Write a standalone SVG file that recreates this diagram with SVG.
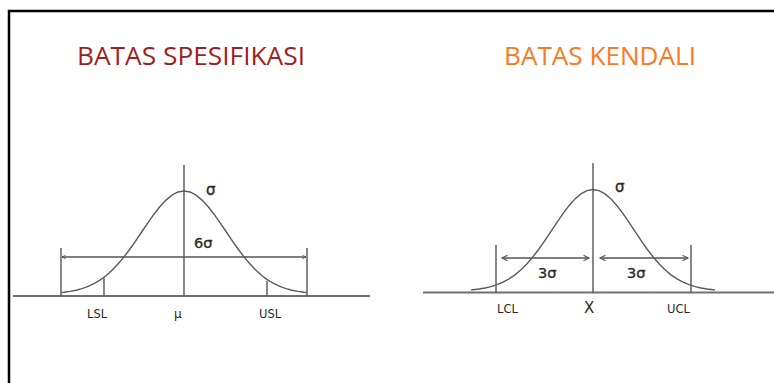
<svg xmlns="http://www.w3.org/2000/svg" width="774" height="383" viewBox="0 0 774 383">
<style>
.title{font-family:"Open Sans","Noto Sans","DejaVu Sans",sans-serif;font-size:25px}
.lbl{font-family:"DejaVu Sans","Liberation Sans",sans-serif;fill:#2a2a2a}
.sg{stroke:#2a2a2a;stroke-width:0.35}
.ax{stroke:#707070;stroke-width:2;fill:none}
.ln{stroke:#555;stroke-width:1.4;fill:none}
.cv{stroke:#5a5a5a;stroke-width:1.4;fill:none}
.arr{stroke:#555;stroke-width:1.3;fill:none;marker-start:url(#ah);marker-end:url(#ah)}
.arrs{stroke:#555;stroke-width:1.3;fill:none;marker-start:url(#ahs);marker-end:url(#ahs)}
</style>
<defs>
<marker id="ah" markerUnits="userSpaceOnUse" markerWidth="8" markerHeight="8" refX="6" refY="3.5" orient="auto-start-reverse">
<path d="M0.5,0.8 L6,3.5 L0.5,6.2" fill="none" stroke="#555" stroke-width="1.1"/>
</marker>
<marker id="ahs" markerUnits="userSpaceOnUse" markerWidth="6" markerHeight="6" refX="4" refY="3" orient="auto-start-reverse">
<path d="M0.5,1.3 L4,3 L0.5,4.7" fill="none" stroke="#555" stroke-width="1"/>
</marker>
</defs>
<rect width="774" height="383" fill="#fff"/>
<g id="frame">
<path d="M9,383 V11 H774" fill="none" stroke="#000" stroke-width="2.5"/>
</g>
<g id="title-spesifikasi"><text class="title" x="77" y="65" fill="#A01E22" textLength="228" lengthAdjust="spacingAndGlyphs">BATAS SPESIFIKASI</text></g>
<g id="title-kendali"><text class="title" x="504" y="65" fill="#F97A22" textLength="192" lengthAdjust="spacingAndGlyphs">BATAS KENDALI</text></g>

<g id="connectors">
<line class="ax" x1="13" y1="296" x2="370" y2="296"/>
<line class="ln" x1="184" y1="165" x2="184" y2="296"/>
<line class="ln" x1="61" y1="248" x2="61" y2="296"/>
<line class="ln" x1="307" y1="248" x2="307" y2="296"/>
<line class="ln" x1="104" y1="278" x2="104" y2="296"/>
<line class="ln" x1="267" y1="281" x2="267" y2="296"/>
<line class="arrs" x1="62" y1="257" x2="306" y2="257"/>
<line class="ax" x1="423" y1="292.5" x2="774" y2="292.5"/>
<line class="ln" x1="593" y1="163" x2="593" y2="293"/>
<line class="ln" x1="496" y1="245" x2="496" y2="293"/>
<line class="ln" x1="691" y1="245" x2="691" y2="293"/>
<line class="arr" x1="502" y1="258" x2="589" y2="258"/>
<line class="arr" x1="600" y1="258" x2="688" y2="258"/>
</g>

<g id="curve-spesifikasi">
<path class="cv" d="M61,292.6 L64,292.3 L70,291.4 L76,290.2 L82,288.6 L88,286.4 L94,283.6 L100,280.1 L106,275.7 L112,270.3 L118,264 L124,256.9 L130,249 L136,240.4 L142,231.5 L148,222.6 L154,214.2 L160,206.5 L166,200.1 L172,195.1 L178,192 L184,191 L190,192 L196,195.1 L202,200.1 L208,206.5 L214,214.2 L220,222.6 L226,231.5 L232,240.4 L238,249 L244,256.9 L250,264 L256,270.3 L262,275.7 L268,280.1 L274,283.6 L280,286.4 L286,288.6 L292,290.2 L298,291.4 L304,292.3 L307,292.6"/>
</g>
<g id="curve-kendali">
<path class="cv" d="M471,289.9 L473,289.7 L479,289 L485,288 L491,286.6 L497,284.7 L503,282.2 L509,278.9 L515,274.9 L521,269.8 L527,263.8 L533,256.8 L539,249 L545,240.4 L551,231.4 L557,222.4 L563,213.7 L569,205.7 L575,198.9 L581,193.9 L587,190.6 L593,189.5 L599,190.6 L605,193.9 L611,198.9 L617,205.7 L623,213.7 L629,222.4 L635,231.4 L641,240.4 L647,249 L653,256.8 L659,263.8 L665,269.8 L671,274.9 L677,278.9 L683,282.2 L689,284.7 L695,286.6 L701,288 L707,289 L713,289.7 L715,289.9"/>
</g>

<g id="label-sigma-left"><text class="lbl sg" x="206" y="195" font-size="15">σ</text></g>
<g id="label-6sigma"><text class="lbl sg" x="194" y="248" font-size="14.5">6σ</text></g>
<g id="label-lsl"><text class="lbl" x="87" y="318" font-size="11.5">LSL</text></g>
<g id="label-mu"><text class="lbl" x="174" y="318" font-size="12">μ</text></g>
<g id="label-usl"><text class="lbl" x="259" y="318" font-size="11.5">USL</text></g>

<g id="label-sigma-right"><text class="lbl sg" x="615" y="192" font-size="15">σ</text></g>
<g id="label-3sigma-left"><text class="lbl sg" x="538" y="278" font-size="14.5">3σ</text></g>
<g id="label-3sigma-right"><text class="lbl sg" x="627" y="278" font-size="14.5">3σ</text></g>
<g id="label-lcl"><text class="lbl" x="497" y="313" font-size="11.5">LCL</text></g>
<g id="label-x"><text class="lbl" x="584" y="313" font-size="15">X</text></g>
<g id="label-ucl"><text class="lbl" x="667" y="313" font-size="11.5">UCL</text></g>
</svg>
